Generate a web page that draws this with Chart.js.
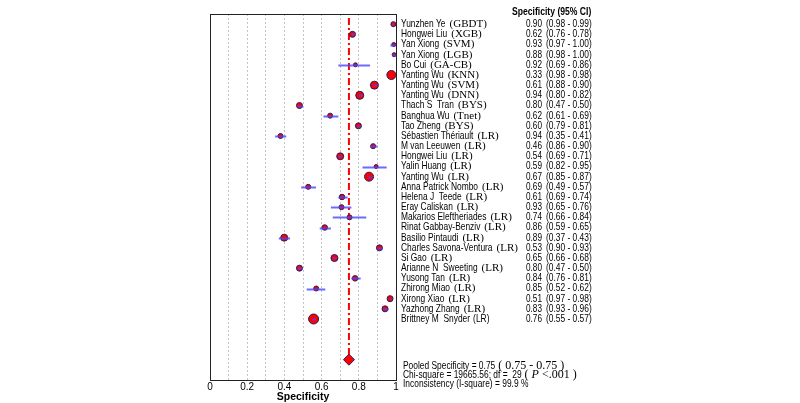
<!DOCTYPE html>
<html>
<head>
<meta charset="utf-8">
<script src="https://cdn.jsdelivr.net/npm/chart.js@4.4.1/dist/chart.umd.min.js"></script>
<style>
  html, body { margin: 0; padding: 0; background: #fff; }
  canvas { display: block; }
</style>
</head>
<body>
<canvas id="forest" width="800" height="403"></canvas>
<script>
// study labels (author part + model part)
const authors = ['Yunzhen Ye', 'Hongwei Liu', 'Yan Xiong', 'Yan Xiong', 'Bo Cui', 'Yanting Wu', 'Yanting Wu',
  'Yanting Wu', 'Thach S  Tran', 'Banghua Wu', 'Tao Zheng', 'Sébastien Thériault', 'M van Leeuwen', 'Hongwei Liu',
  'Yalin Huang', 'Yanting Wu', 'Anna Patrick Nombo', 'Helena J  Teede', 'Eray Caliskan', 'Makarios Eleftheriades',
  'Rinat Gabbay-Benziv', 'Basilio Pintaudi', 'Charles Savona-Ventura', 'Si Gao', 'Arianne N  Sweeting',
  'Yusong Tan', 'Zhirong Miao', 'Xirong Xiao', 'Yazhong Zhang', 'Brittney M  Snyder'];
const models = ['GBDT', 'XGB', 'SVM', 'LGB', 'GA-CB', 'KNN', 'SVM', 'DNN', 'BYS', 'Tnet', 'BYS',
  'LR', 'LR', 'LR', 'LR', 'LR', 'LR', 'LR', 'LR', 'LR', 'LR', 'LR', 'LR', 'LR', 'LR', 'LR', 'LR', 'LR', 'LR', 'LR'];

// specificity column as printed
const specText = [0.90, 0.62, 0.93, 0.88, 0.92, 0.33, 0.61, 0.94, 0.80, 0.62, 0.60, 0.94, 0.46, 0.54, 0.59,
  0.67, 0.69, 0.61, 0.93, 0.74, 0.86, 0.89, 0.53, 0.65, 0.80, 0.84, 0.85, 0.51, 0.83, 0.76];
const ciLow = [0.98, 0.76, 0.97, 0.98, 0.69, 0.98, 0.88, 0.80, 0.47, 0.61, 0.79, 0.35, 0.86, 0.69, 0.82,
  0.85, 0.49, 0.69, 0.65, 0.66, 0.59, 0.37, 0.90, 0.66, 0.47, 0.76, 0.52, 0.97, 0.93, 0.55];
const ciHigh = [0.99, 0.78, 1.00, 1.00, 0.86, 0.98, 0.90, 0.82, 0.50, 0.69, 0.81, 0.41, 0.90, 0.71, 0.95,
  0.87, 0.57, 0.74, 0.76, 0.84, 0.65, 0.43, 0.93, 0.68, 0.50, 0.81, 0.62, 0.98, 0.96, 0.57];

// where the markers sit on the plot
const plotted = [0.986, 0.766, 0.988, 0.99, 0.782, 0.975, 0.884, 0.805, 0.481, 0.646, 0.798, 0.379, 0.877, 0.70,
  0.893, 0.855, 0.528, 0.71, 0.707, 0.75, 0.617, 0.399, 0.911, 0.669, 0.481, 0.78, 0.571, 0.968, 0.941, 0.557];
// relative study weights (marker size)
const weights = [5, 6, 4, 4, 4, 9, 8, 8, 6, 5, 6, 5, 5, 7, 4, 9, 5, 5.5, 5, 5, 5.5, 7, 6, 7, 6, 5.5, 5, 6, 6, 10];

const pooled = 0.747;
const pooledRow = 34;
const xTicks = [0, 0.2, 0.4, 0.6, 0.8, 1];

const SANS = '"Liberation Sans", Arial, sans-serif';
const SERIF = '"Liberation Serif", "Times New Roman", serif';

function narrow(ctx, txt, x, y, font, sx) {
  ctx.save();
  ctx.font = font;
  ctx.translate(x, y);
  ctx.scale(sx, 1);
  ctx.fillText(txt, 0, 0);
  const w = ctx.measureText(txt).width * sx;
  ctx.restore();
  return w;
}

const ciAndFrame = {
  id: 'ciAndFrame',
  afterDatasetsDraw(chart) {
    const { ctx, chartArea: a, scales: { x, y } } = chart;
    ctx.save();
    ctx.strokeStyle = 'rgba(70,70,255,0.8)';
    ctx.lineWidth = 2;
    for (let i = 0; i < ciLow.length; i++) {
      const py = Math.round(y.getPixelForValue(i + 1)) + 0.5;
      ctx.beginPath();
      ctx.moveTo(x.getPixelForValue(ciLow[i]), py);
      ctx.lineTo(x.getPixelForValue(ciHigh[i]), py);
      ctx.stroke();
    }
    ctx.strokeStyle = '#222';
    ctx.lineWidth = 1;
    ctx.strokeRect(Math.round(a.left) + 0.5, Math.round(a.top) + 0.5,
      Math.round(a.right - a.left), Math.round(a.bottom - a.top));
    ctx.restore();
  }
};

const labels = {
  id: 'labels',
  afterDraw(chart) {
    const { ctx, scales: { y } } = chart;
    ctx.save();
    ctx.fillStyle = '#000';
    ctx.textBaseline = 'middle';
    narrow(ctx, 'Specificity (95% CI)', 512, 12, 'bold 10px ' + SANS, 0.86);
    for (let i = 0; i < authors.length; i++) {
      const py = y.getPixelForValue(i + 1);
      const w = narrow(ctx, authors[i], 401, py, '10.5px ' + SANS, 0.8);
      if (i === authors.length - 1) {
        narrow(ctx, '(' + models[i] + ')', 401 + w + 3, py, '10.5px ' + SANS, 0.8);
      } else {
        ctx.font = '11px ' + SERIF;
        ctx.fillText('(' + models[i] + ')', 401 + w + 4, py);
      }
      narrow(ctx, specText[i].toFixed(2), 526, py, '10.5px ' + SANS, 0.78);
      narrow(ctx, '(' + ciLow[i].toFixed(2) + ' - ' + ciHigh[i].toFixed(2) + ')', 546, py, '10.5px ' + SANS, 0.8);
    }
    // summary lines
    let w = narrow(ctx, 'Pooled Specificity = 0.75', 403, 366, '10.5px ' + SANS, 0.8);
    ctx.font = '12px ' + SERIF;
    ctx.fillText(' ( 0.75 - 0.75 )', 403 + w, 366);
    w = narrow(ctx, 'Chi-square = 19665.56; df =  29', 403, 375, '10.5px ' + SANS, 0.8);
    ctx.font = '12px ' + SERIF;
    ctx.fillText(' ( ', 403 + w, 375);
    let w2 = ctx.measureText(' ( ').width;
    ctx.font = 'italic 12px ' + SERIF;
    ctx.fillText('P', 403 + w + w2, 375);
    w2 += ctx.measureText('P').width;
    ctx.font = '12px ' + SERIF;
    ctx.fillText(' <.001 )', 403 + w + w2, 375);
    narrow(ctx, 'Inconsistency (I-square) = 99.9 %', 403, 384, '10.5px ' + SANS, 0.8);
    ctx.restore();
  }
};

new Chart(document.getElementById('forest'), {
  type: 'scatter',
  data: {
    datasets: [
      {
        type: 'line',
        data: [{ x: pooled, y: 0.4 }, { x: pooled, y: pooledRow }],
        borderColor: '#ff0000',
        borderWidth: 2,
        borderDash: [7, 3, 2, 3],
        pointRadius: 0,
        order: 3
      },
      {
        data: plotted.map((v, i) => ({ x: v, y: i + 1 })),
        pointRadius: weights.map(w => w * 0.5),
        backgroundColor: '#ff0000',
        borderColor: '#2a1a50',
        borderWidth: 1,
        order: 2
      },
      {
        data: [{ x: pooled, y: pooledRow }],
        pointStyle: 'rectRot',
        pointRadius: 5.5,
        backgroundColor: '#ff0000',
        borderColor: '#2a1a50',
        borderWidth: 1,
        order: 1
      }
    ]
  },
  options: {
    responsive: false,
    animation: false,
    layout: { padding: { left: 210, top: 14, right: 404, bottom: 0 } },
    plugins: { legend: { display: false }, tooltip: { enabled: false } },
    scales: {
      x: {
        type: 'linear',
        min: 0,
        max: 1,
        afterFit: s => { s.height = 23; },
        ticks: {
          stepSize: 0.1,
          autoSkip: false,
          maxRotation: 0,
          padding: 1,
          color: '#000',
          font: { size: 10, family: SANS },
          callback: v => {
            const t = xTicks.find(k => Math.abs(k - v) < 1e-6);
            return t === undefined ? '' : String(t);
          }
        },
        grid: {
          drawTicks: false,
          color: c => (c.tick && (c.tick.value < 0.01 || c.tick.value > 0.99)) ? 'rgba(0,0,0,0)' : '#c4c4c4',
          lineWidth: 1
        },
        border: { display: true, color: '#222', dash: [2, 2] },
        title: {
          display: true,
          text: 'Specificity',
          color: '#000',
          font: { size: 10.5, weight: 'bold', family: SANS },
          padding: { top: 0, bottom: 0 }
        }
      },
      y: {
        type: 'linear',
        min: 0,
        max: 36,
        reverse: true,
        display: false
      }
    }
  },
  plugins: [ciAndFrame, labels]
});
</script>
</body>
</html>
